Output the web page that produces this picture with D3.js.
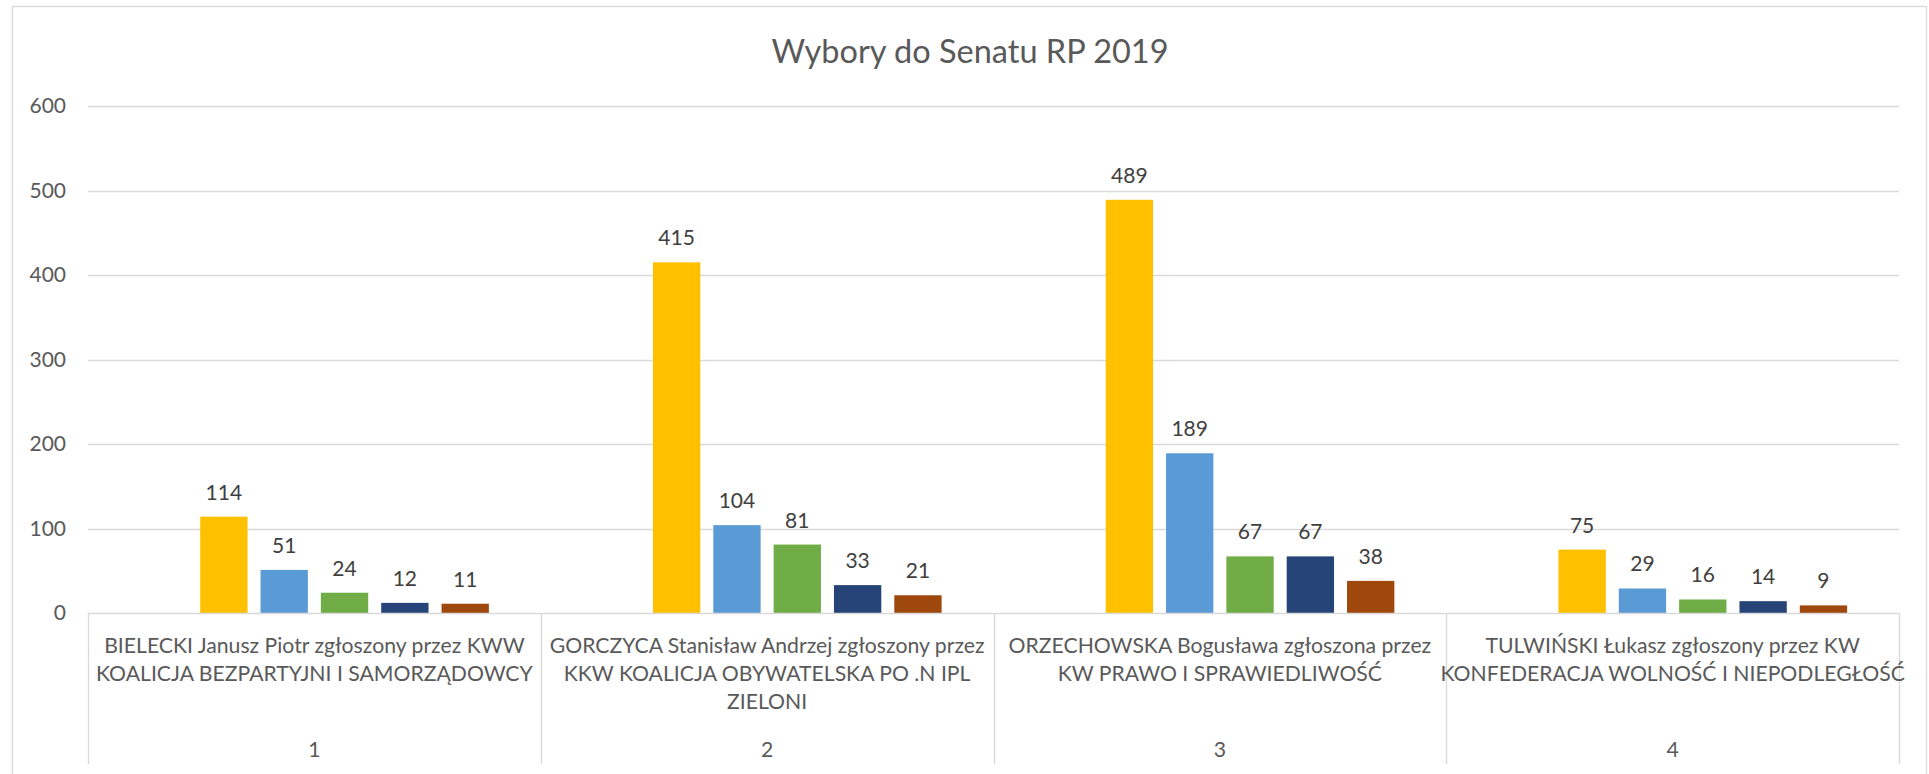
<!DOCTYPE html>
<html>
<head>
<meta charset="utf-8">
<script src="https://cdn.jsdelivr.net/npm/d3@7"></script>
<style>
  html, body { margin: 0; padding: 0; background: #fff; overflow: hidden; }
  svg { display: block; }
  text { font-family: Lato, "Open Sans", sans-serif; }
</style>
</head>
<body>
<svg id="chart" width="1929" height="774"></svg>
<script>
// ---- data ----
const title = "Wybory do Senatu RP 2019";
const categories = ["1", "2", "3", "4"];
const categoryLabels = [
  ["BIELECKI Janusz Piotr zgłoszony przez KWW", "KOALICJA BEZPARTYJNI I SAMORZĄDOWCY"],
  ["GORCZYCA Stanisław Andrzej zgłoszony przez", "KKW KOALICJA OBYWATELSKA PO .N IPL", "ZIELONI"],
  ["ORZECHOWSKA Bogusława zgłoszona przez", "KW PRAWO I SPRAWIEDLIWOŚĆ"],
  ["TULWIŃSKI Łukasz zgłoszony przez KW", "KONFEDERACJA WOLNOŚĆ I NIEPODLEGŁOŚĆ"]
];
const series0 = [null, null, null, null];   // empty series (no values)
const series1 = [114, 415, 489, 75];
const series2 = [51, 104, 189, 29];
const series3 = [24, 81, 67, 16];
const series4 = [12, 33, 67, 14];
const series5 = [11, 21, 38, 9];
const seriesList = [series0, series1, series2, series3, series4, series5];
const seriesColors = ["#4472C4", "#FFC000", "#5B9BD5", "#70AD47", "#264478", "#9E480E"];
const yTicks = [0, 100, 200, 300, 400, 500, 600];

// ---- layout ----
const W = 1929, H = 774;
const plotLeft = 88, plotRight = 1899, plotTop = 106, plotBottom = 613;
const axisBottom = 764;

const svg = d3.select("#chart");

// chart border
svg.append("rect")
  .attr("x", 12.5).attr("y", 6.5)
  .attr("width", 1914).attr("height", 820)
  .attr("fill", "#fff").attr("stroke", "#D9D9D9").attr("stroke-width", 1.3);

// title
svg.append("text")
  .attr("x", 970).attr("y", 63)
  .attr("text-anchor", "middle")
  .attr("font-size", 32.5)
  .attr("fill", "#595959")
  .text(title);

const y = d3.scaleLinear().domain([0, 600]).range([plotBottom, plotTop]);
const x0 = d3.scaleBand().domain(categories).range([plotLeft, plotRight]).padding(0);
const catW = x0.bandwidth();
const gapHalf = catW * 0.1146;
const x1 = d3.scaleBand().domain(d3.range(seriesList.length))
  .range([gapHalf, catW - gapHalf]).paddingInner(0.2156).paddingOuter(0);

// gridlines
svg.append("g").selectAll("line")
  .data(yTicks.filter(t => t > 0))
  .join("line")
  .attr("x1", plotLeft).attr("x2", plotRight)
  .attr("y1", d => Math.round(y(d)) + 0.5).attr("y2", d => Math.round(y(d)) + 0.5)
  .attr("stroke", "#D9D9D9").attr("stroke-width", 1.4);

// y axis labels
const yAxis = d3.axisLeft(y).tickValues(yTicks).tickSize(0).tickPadding(0);
const yg = svg.append("g").attr("transform", `translate(66,0)`).call(yAxis);
yg.select(".domain").remove();
yg.selectAll("text")
  .attr("font-family", "Lato, 'Open Sans', sans-serif")
  .attr("font-size", 21).attr("fill", "#595959");

// bars
const barData = [];
categories.forEach((c, ci) => {
  seriesList.forEach((s, si) => {
    if (s[ci] !== null && s[ci] !== undefined) barData.push({ c, si, v: s[ci] });
  });
});
svg.append("g").selectAll("rect")
  .data(barData)
  .join("rect")
  .attr("x", d => x0(d.c) + x1(d.si))
  .attr("y", d => y(d.v))
  .attr("width", x1.bandwidth())
  .attr("height", d => y(0) - y(d.v))
  .attr("fill", d => seriesColors[d.si]);

// value labels
svg.append("g").selectAll("text")
  .data(barData)
  .join("text")
  .attr("x", d => x0(d.c) + x1(d.si) + x1.bandwidth() / 2)
  .attr("y", d => y(d.v) - 17)
  .attr("text-anchor", "middle")
  .attr("font-size", 21)
  .attr("fill", "#404040")
  .text(d => d.v);

// category axis line and box
svg.append("line")
  .attr("x1", plotLeft).attr("x2", plotRight)
  .attr("y1", plotBottom + 0.5).attr("y2", plotBottom + 0.5)
  .attr("stroke", "#D9D9D9").attr("stroke-width", 1.4);
const bounds = categories.map(c => x0(c)).concat([plotRight]);
svg.append("g").selectAll("line")
  .data(bounds)
  .join("line")
  .attr("x1", d => Math.round(d) + 0.5).attr("x2", d => Math.round(d) + 0.5)
  .attr("y1", plotBottom).attr("y2", axisBottom)
  .attr("stroke", "#D9D9D9").attr("stroke-width", 1.4);

// category labels
const catG = svg.append("g");
categories.forEach((c, ci) => {
  const cx = x0(c) + catW / 2;
  const t = catG.append("text")
    .attr("text-anchor", "middle")
    .attr("font-size", 21.2)
    .attr("fill", "#595959");
  categoryLabels[ci].forEach((line, li) => {
    t.append("tspan").attr("x", cx).attr("y", 653 + li * 28).text(line);
  });
  catG.append("text")
    .attr("x", cx).attr("y", 757)
    .attr("text-anchor", "middle")
    .attr("font-size", 21.2)
    .attr("fill", "#595959")
    .text(c);
});
</script>
</body>
</html>
